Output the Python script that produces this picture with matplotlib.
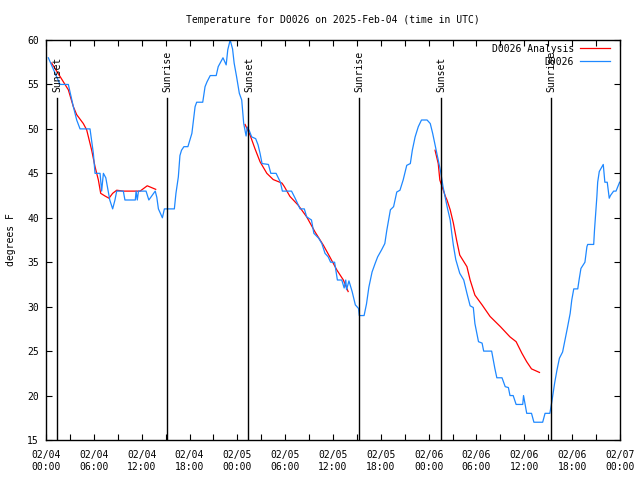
import numpy as np
import matplotlib
matplotlib.use("Agg")
import matplotlib.pyplot as plt

plt.rcParams['font.family'] = ['DejaVu Sans Mono']

# hours since 02/04 00:00 UTC
obs_h = [0.29, 1.76, 2.8, 3.43, 3.85, 4.27, 5.52, 5.94, 6.15, 6.78, 6.98, 7.2, 7.5, 7.8, 8.0, 8.36, 8.65, 8.87,
         9.7, 9.9, 11.2, 11.3, 11.45, 11.6, 12.55, 12.9, 13.3, 13.7, 13.9, 14.1, 14.6, 14.85, 16.1, 16.3, 16.6,
         16.8, 17.0, 17.3, 17.8, 18.3, 18.5, 18.7, 18.9, 19.66, 19.95, 20.2, 20.6, 21.35, 21.6, 22.2, 22.6, 22.8,
         23.1, 23.4, 23.6, 23.9, 24.25, 24.55, 24.8, 25.1, 25.25, 25.5, 25.8, 26.3, 26.6, 26.85, 27.1, 27.9, 28.2,
         28.86, 29.4, 29.65, 30.8, 31.25, 31.87, 32.4, 32.7, 33.3, 33.6, 34.2, 34.6, 35.0, 35.4, 35.7, 36.2, 36.55,
         37.1, 37.4, 37.6, 37.7, 38.0, 38.4, 38.8, 39.2, 39.3, 39.9, 40.2, 40.5, 40.9, 41.3, 41.6, 42.1, 42.5,
         42.75, 43.2, 43.6, 44.0, 44.4, 44.8, 45.25, 45.7, 45.95, 46.3, 46.7, 47.1, 47.8, 48.2, 48.5, 48.9, 49.2,
         49.5, 49.8, 50.1, 50.35, 50.7, 50.9, 51.1, 51.4, 51.9, 52.4, 52.8, 53.2, 53.6, 53.8, 54.25, 54.7, 54.9,
         55.9, 56.3, 56.55, 57.2, 57.6, 58.0, 58.2, 58.6, 58.97, 59.8, 59.9, 60.3, 60.9, 61.2, 62.3, 62.6, 63.2,
         63.45, 63.8, 64.1, 64.4, 64.8, 65.1, 65.4, 65.75, 65.95, 66.2, 66.7, 66.9, 67.1, 67.6, 67.85, 67.95,
         68.7, 68.8, 68.97, 69.1, 69.2, 69.4, 69.9, 70.1, 70.4, 70.65, 70.8, 71.2, 71.5, 71.95]
obs_t = [58, 55, 55, 52.5, 51, 50, 50, 47.25, 45, 45, 43, 45, 44.5, 43, 42, 41, 42, 43,
         43, 42, 42, 43, 42, 43, 43, 42, 42.5, 43, 42.3, 41, 40, 41, 41, 42.75, 44.6,
         47, 47.6, 48, 48, 49.5, 51, 52.5, 53, 53, 54.75, 55.3, 56, 56, 57, 58, 57.2, 58.9,
         60, 59, 57.4, 55.9, 54, 53.25, 50.6, 49.2, 50.2, 49.8, 49.1, 48.9, 48.2, 47.25, 46.1, 46, 45,
         45, 44, 43, 43, 42.2, 41, 41, 40.1, 39.75, 38.25, 37.7, 37.1, 36, 35.6, 35, 35, 33,
         33, 32.1, 33, 31.9, 32.9, 31.7, 30.2, 29.8, 29, 29, 30.3, 32.2, 33.9, 34.9, 35.6, 36.4, 37.1,
         38.6, 40.9, 41.25, 42.9, 43.1, 44.25, 45.9, 46.1, 47.6, 49.1, 50.25, 51, 51, 50.6, 49.5, 47.8, 46.5,
         45.2, 43.5, 42.2, 41.1, 39.75, 38.25, 36.9, 35.3, 33.75, 33, 31.5, 30.1, 29.9, 28.1, 26.06, 25.9, 25,
         25, 23.06, 22, 22, 21, 20.9, 20, 20, 19, 19, 20, 18, 18, 17, 17, 18, 18,
         19.3, 21.4, 22.9, 24.2, 24.9, 26.25, 27.6, 29.25, 30.75, 32, 32, 33.2, 34.3, 35, 36.75, 37,
         37, 38.6, 40.7, 42.4, 44, 45.2, 46, 44, 44, 42.2, 42.5, 43, 43, 44]

ana_h = [0.71, 1.76, 2.8, 3.43, 3.85, 4.68, 5.1, 5.73, 6.15, 6.57, 6.86, 7.4, 7.9, 8.36, 8.87, 9.7, 11.8,
         12.7, 13.76, np.nan,
         24.97, 25.6, 26.2, 26.85, 27.7, 28.5, 29.6, 29.9, 30.6, 31.65, 32.7, 33.75, 34.8, 35.6, 36.5, 37.3,
         37.9, np.nan,
         48.8, 49.2, 49.4, 50.1, 50.3, 50.7, 51.1, 51.5, 51.9, 52.8, 53.2, 53.8, 54.7, 55.7, 57.0, 58.2, 58.97,
         59.7, 60.3, 60.9, 61.9]
ana_t = [57.4, 55.9, 54.4, 52.5, 51.6, 50.6, 49.9, 47.6, 45.75, 44.25, 42.75, 42.45, 42.2, 42.75, 43.1, 43, 43,
         43.6, 43.2, np.nan,
         50.5, 49.3, 47.8, 46.3, 45, 44.3, 43.9, 43.5, 42.4, 41.4, 40.1, 38.4, 36.9, 35.6, 34.1, 33,
         31.7, np.nan,
         47.6, 46.1, 44.25, 42.4, 42, 40.9, 39.4, 37.5, 35.8, 34.5, 33, 31.3, 30.2, 28.9, 27.75, 26.6, 26.06,
         24.75, 23.8, 23, 22.6]

sun_h = [1.35, 15.2, 25.4, 39.2, 49.5, 63.3]
sun_lbl = ["Sunset", "Sunrise", "Sunset", "Sunrise", "Sunset", "Sunrise"]

tick_h = list(range(0, 73, 6))
tick_lbl = ["02/04\n00:00", "02/04\n06:00", "02/04\n12:00", "02/04\n18:00",
            "02/05\n00:00", "02/05\n06:00", "02/05\n12:00", "02/05\n18:00",
            "02/06\n00:00", "02/06\n06:00", "02/06\n12:00", "02/06\n18:00", "02/07\n00:00"]

fig = plt.figure(figsize=(6.4, 4.8), dpi=100)
ax = fig.add_axes([46/640, 1-440/480, (620-46)/640, 400/480])

fs = 7
ax.plot(ana_h, ana_t, color='#ff0000', lw=0.9, label='D0026 Analysis')
ax.plot(obs_h, obs_t, color='#1e88ff', lw=0.9, label='D0026')

for h, l in zip(sun_h, sun_lbl):
    ax.plot([h, h], [15, 53.5], color='black', lw=1.0)
    ax.text(h + 0.05, 54.2, l, rotation=90, ha='center', va='bottom', fontsize=fs)

ax.set_xlim(0, 72)
ax.set_ylim(15, 60)
ax.set_xticks(tick_h)
ax.set_xticklabels(tick_lbl, fontsize=fs, linespacing=1.25)
ax.set_xticks(np.arange(0, 73, 3), minor=True)
ax.set_yticks(np.arange(15, 61, 5))
ax.tick_params(axis='y', labelsize=fs)
ax.tick_params(which='both', direction='in', top=True, right=True, length=4, width=0.8)
ax.tick_params(axis='x', pad=7)
ax.tick_params(axis='y', pad=5)
for s in ax.spines.values():
    s.set_linewidth(1.0)

ax.set_ylabel('degrees F', fontsize=fs, labelpad=8)
ax.set_title('Temperature for D0026 on 2025-Feb-04 (time in UTC)', fontsize=fs, pad=12)

ax.legend(loc='upper right', frameon=False, markerfirst=False, fontsize=fs,
          bbox_to_anchor=(1 - 5/574, 1 + 1/400),
          handlelength=3.1, handletextpad=0.6, labelspacing=0.3, borderaxespad=0.3,
          borderpad=0.2)

fig.savefig('out.png', dpi=100)
